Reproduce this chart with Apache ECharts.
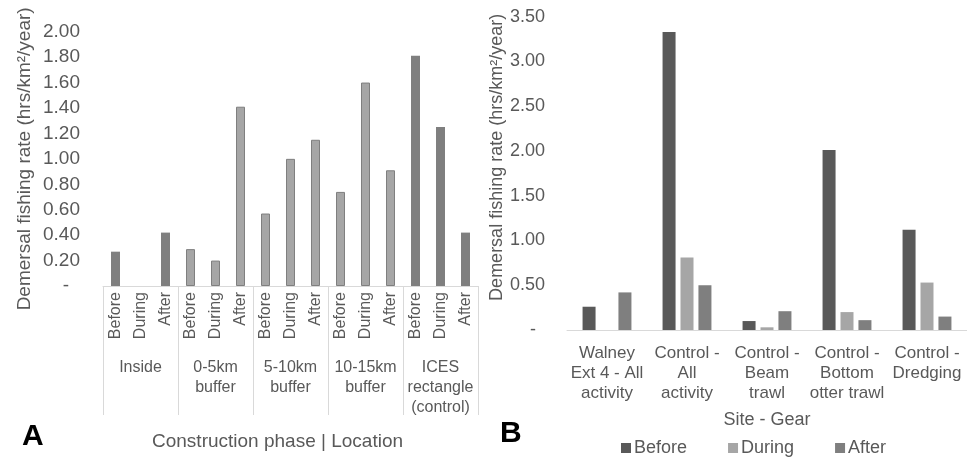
<!DOCTYPE html>
<html><head><meta charset="utf-8">
<script src="https://cdn.jsdelivr.net/npm/echarts@6/dist/echarts.min.js"></script>
<style>html,body{margin:0;padding:0;background:#fff}#c{width:967px;height:458px}</style>
</head><body><div id="c"></div>
<script>
// ---- data ----
const phases = ['Before', 'During', 'After'];
const locations = ['Inside', '0-5km\nbuffer', '5-10km\nbuffer', '10-15km\nbuffer', 'ICES\nrectangle\n(control)'];
const locBefore = [0.27, 0.29, 0.57, 0.74, 1.81];
const locDuring = [0.00, 0.20, 1.00, 1.60, 1.25];
const locAfter  = [0.42, 1.41, 1.15, 0.91, 0.42];

const sites = ['Walney\nExt 4 - All\nactivity', 'Control -\nAll\nactivity', 'Control -\nBeam\ntrawl', 'Control -\nBottom\notter trawl', 'Control -\nDredging'];
const siteBefore = [0.26, 3.33, 0.10, 2.01, 1.12];
const siteDuring = [0.00, 0.81, 0.03, 0.20, 0.53];
const siteAfter  = [0.42, 0.50, 0.21, 0.11, 0.15];

// ---- build ----
const FONT = '"Liberation Sans", Arial, sans-serif';
const TXT = '#595959';
const AX = '#d9d9d9';

const leftCats = [];
const leftVals = [];
const locSets = [locBefore, locDuring, locAfter];
locations.forEach((loc, i) => {
  phases.forEach((p, j) => {
    leftCats.push(p + '|' + i);
    const dark = (i === 0 || i === locations.length - 1);
    leftVals.push({
      value: locSets[j][i],
      itemStyle: dark ? { color: '#7f7f7f', borderColor: '#7f7f7f', borderWidth: 0 }
                      : { color: '#a6a6a6', borderColor: '#7f7f7f', borderWidth: 1 }
    });
  });
});

function yFmt(v) { return v === 0 ? '{d|-}' : v.toFixed(2); }

const chart = echarts.init(document.getElementById('c'), null, { renderer: 'canvas' });
chart.setOption({
  animation: false,
  textStyle: { fontFamily: FONT },
  grid: [
    { left: 103, width: 375, top: 31.7, bottom: 172 },
    { left: 567, width: 404, top: 16.7, bottom: 128 }
  ],
  legend: {
    data: ['Before', 'During', 'After'],
    left: 616, top: 434,
    icon: 'rect', itemWidth: 10, itemHeight: 10, itemGap: 41,
    textStyle: { fontSize: 18, color: TXT, fontFamily: FONT, padding: [0, 0, 0, -2] }
  },
  xAxis: [
    {
      gridIndex: 0, type: 'category', data: leftCats,
      axisLine: { lineStyle: { color: AX } },
      axisTick: { show: false },
      axisLabel: { interval: 0, rotate: 90, margin: 6, fontSize: 16, color: TXT, fontFamily: FONT,
        formatter: v => v.split('|')[0] }
    },
    {
      gridIndex: 0, type: 'category', data: locations, position: 'bottom',
      axisLine: { show: false },
      axisTick: { show: true, interval: 0, length: 129, lineStyle: { color: AX } },
      axisLabel: { interval: 0, margin: 72, fontSize: 16, lineHeight: 20, color: TXT, fontFamily: FONT }
    },
    {
      gridIndex: 1, type: 'category', data: sites,
      axisLine: { lineStyle: { color: AX } },
      axisTick: { show: false },
      axisLabel: { interval: 0, margin: 13, fontSize: 17, lineHeight: 20, color: TXT, fontFamily: FONT },
      name: 'Site - Gear', nameLocation: 'middle', nameGap: 81,
      nameTextStyle: { fontSize: 18, color: TXT, fontFamily: FONT }
    }
  ],
  yAxis: [
    {
      gridIndex: 0, type: 'value', min: 0, max: 2, interval: 0.2,
      axisLine: { show: false }, axisTick: { show: false }, splitLine: { show: false },
      axisLabel: { margin: 23, fontSize: 19, color: TXT, fontFamily: FONT, formatter: yFmt,
        rich: { d: { fontSize: 19, color: TXT, padding: [0, 11, 0, 0] } } },
      name: 'Demersal fishing rate (hrs/km²/year)', nameLocation: 'middle', nameGap: 69,
      nameTextStyle: { fontSize: 19, color: TXT, fontFamily: FONT }
    },
    {
      gridIndex: 1, type: 'value', min: 0, max: 3.5, interval: 0.5,
      axisLine: { show: false }, axisTick: { show: false }, splitLine: { show: false },
      axisLabel: { margin: 22, fontSize: 18, color: TXT, fontFamily: FONT, formatter: yFmt,
        rich: { d: { fontSize: 18, color: TXT, padding: [0, 9, 0, 0] } } },
      name: 'Demersal fishing rate (hrs/km²/year)', nameLocation: 'middle', nameGap: 61,
      nameTextStyle: { fontSize: 18, color: TXT, fontFamily: FONT, padding: [0, 0, 0, 32] }
    }
  ],
  series: [
    { type: 'bar', xAxisIndex: 0, yAxisIndex: 0, data: leftVals, barWidth: 9 },
    { name: 'Before', type: 'bar', xAxisIndex: 2, yAxisIndex: 1, data: siteBefore, barWidth: 13, barGap: '38%',
      itemStyle: { color: '#595959' } },
    { name: 'During', type: 'bar', xAxisIndex: 2, yAxisIndex: 1, data: siteDuring, barWidth: 13, barGap: '38%',
      itemStyle: { color: '#a6a6a6' } },
    { name: 'After', type: 'bar', xAxisIndex: 2, yAxisIndex: 1, data: siteAfter, barWidth: 13, barGap: '38%',
      itemStyle: { color: '#7f7f7f' } }
  ],
  graphic: [
    { type: 'text', left: 152, top: 432, style: { text: 'Construction phase | Location', fontSize: 19, fill: TXT, fontFamily: FONT } },
    { type: 'text', x: 22, y: 437, style: { text: 'A', fontSize: 30, fontWeight: 'bold', fill: '#000', fontFamily: FONT, verticalAlign: 'middle' } },
    { type: 'text', x: 500, y: 434, style: { text: 'B', fontSize: 30, fontWeight: 'bold', fill: '#000', fontFamily: FONT, verticalAlign: 'middle' } }
  ]
});
</script>
</body></html>
